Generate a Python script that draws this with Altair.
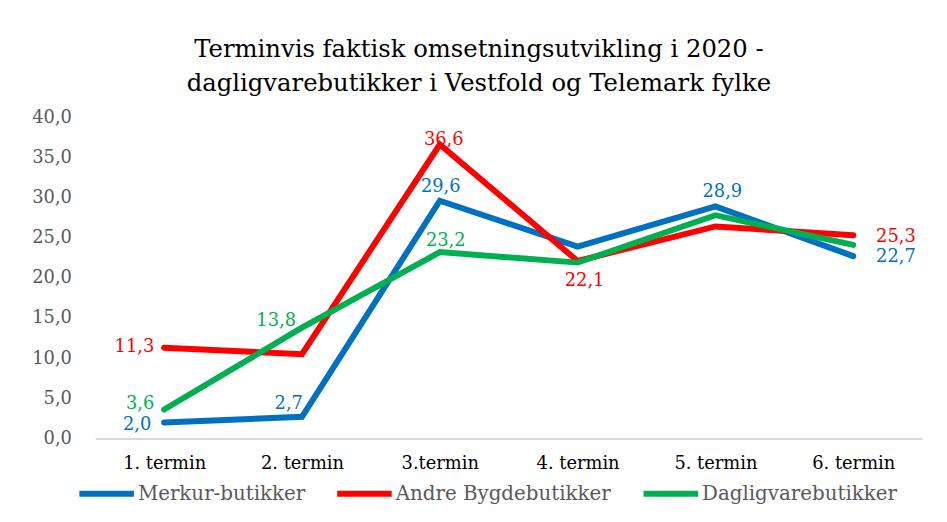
import altair as alt
import pandas as pd

terms = ["1. termin", "2. termin", "3.termin", "4. termin", "5. termin", "6. termin"]
series_names = ["Merkur-butikker", "Andre Bygdebutikker", "Dagligvarebutikker"]
merkur = [2.0, 2.7, 29.6, 23.9, 28.9, 22.7]
andre = [11.3, 10.5, 36.6, 22.1, 26.4, 25.3]
dagligvare = [3.6, 13.8, 23.2, 21.9, 27.8, 24.1]
colors = ["#0070C0", "#FF0000", "#00B050"]

rows = []
for name, vals in zip(series_names, [merkur, andre, dagligvare]):
    for t, v in zip(terms, vals):
        rows.append({"serie": name, "termin": t, "verdi": v})
df = pd.DataFrame(rows)

FONT = "DejaVu Serif"
GRAY = "#595959"

x_enc = alt.X("termin:N", sort=terms, scale=alt.Scale(type="point", padding=0.5),
              axis=alt.Axis(title=None, labelAngle=0, labelFont=FONT, labelFontSize=18,
                            labelColor="#000000", labelPadding=16, ticks=False,
                            domainColor="#D9D9D9", domainWidth=2, grid=False))
y_enc = alt.Y("verdi:Q", scale=alt.Scale(domain=[0, 40], nice=False),
              axis=alt.Axis(title=None, values=[0, 5, 10, 15, 20, 25, 30, 35, 40],
                            labelExpr="replace(format(datum.value, '.1f'), '.', ',')",
                            labelFont=FONT, labelFontSize=18, labelColor=GRAY,
                            labelPadding=24, domain=False, ticks=False, grid=False))
color_scale = alt.Scale(domain=series_names, range=colors)

base = alt.Chart(df)

lines = base.mark_line(strokeWidth=6, strokeCap="round", strokeJoin="miter").encode(
    x=x_enc, y=y_enc,
    color=alt.Color("serie:N", scale=color_scale, sort=series_names,
                    legend=alt.Legend(title=None, orient="none", direction="horizontal",
                                      legendX=-19, legendY=349, padding=0,
                                      symbolType="stroke", symbolSize=3025,
                                      symbolStrokeWidth=6, symbolOffset=0,
                                      labelFont=FONT, labelFontSize=20, labelColor=GRAY,
                                      labelOffset=1, columnPadding=20, labelLimit=400)),
    order=alt.value(0),
)


def label_layer(serie, term, align, dx, dy):
    return base.transform_filter(
        (alt.datum.serie == serie) & (alt.datum.termin == term)
    ).transform_calculate(
        lbl="replace(format(datum.verdi, '.1f'), '.', ',')"
    ).mark_text(align=align, baseline="middle", dx=dx, dy=dy, font=FONT, fontSize=18).encode(
        x=alt.X("termin:N", sort=terms, scale=alt.Scale(type="point", padding=0.5)),
        y=alt.Y("verdi:Q", scale=alt.Scale(domain=[0, 40], nice=False)),
        text="lbl:N",
        color=alt.Color("serie:N", scale=color_scale, legend=None),
    )


M, A, D = series_names
labels = [
    label_layer(M, terms[0], "right", -13, 3),
    label_layer(D, terms[0], "right", -10, -6),
    label_layer(A, terms[0], "right", -10, -1),
    label_layer(M, terms[1], "right", 1, -13),
    label_layer(D, terms[1], "right", -6, -7),
    label_layer(A, terms[2], "center", 4, -5),
    label_layer(M, terms[2], "center", 1, -14),
    label_layer(D, terms[2], "center", 6, -11),
    label_layer(A, terms[3], "center", 7, 20),
    label_layer(M, terms[4], "center", 7, -14),
    label_layer(A, terms[5], "left", 23, 2),
    label_layer(M, terms[5], "left", 23, 1),
]

chart = alt.layer(lines, *labels).properties(
    width=834, height=324,
    title=alt.TitleParams(
        text=["Terminvis faktisk omsetningsutvikling i 2020 -",
              "dagligvarebutikker i Vestfold og Telemark fylke"],
        font=FONT, fontSize=24.5, fontWeight="normal", color="#000000",
        anchor="middle", dx=-30, offset=12, lineHeight=34),
    autosize=alt.AutoSizeParams(type="none"),
    padding={"left": 88, "top": 108, "right": 17, "bottom": 74},
).configure_view(stroke=None).resolve_scale(color="shared")

chart.save("out.html", embed_options={"renderer": "svg", "actions": False})
